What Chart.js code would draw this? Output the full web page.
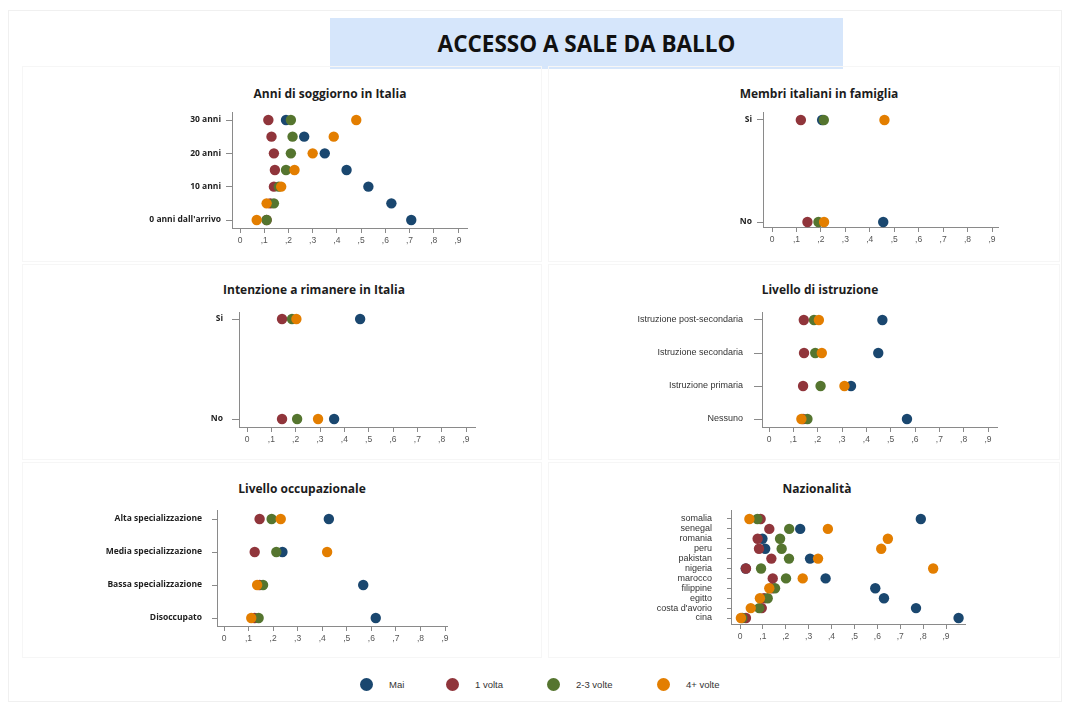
<!DOCTYPE html>
<html>
<head>
<meta charset="utf-8">
<script src="https://cdn.jsdelivr.net/npm/chart.js@4/dist/chart.umd.min.js"></script>
<style>
  body { margin: 0; background: #fff; width: 1068px; height: 704px; position: relative; overflow: hidden; font-family: 'Open Sans', sans-serif; }
  #frame { position: absolute; left: 8px; top: 10px; width: 1052px; height: 690px; border: 1px solid #f0f0f0; }
  .box { position: absolute; border: 1px solid #f6f6f6; }
  #title { position: absolute; left: 330px; top: 18px; width: 513px; height: 51px; background: #d6e6fb; color: #111;
           font: bold 22.5px 'Open Sans', sans-serif; text-align: center; line-height: 51px; }
  .ptitle { position: absolute; transform: translate(-50%, -50%); font: bold 12px 'Open Sans', sans-serif; color: #1c1c1c; white-space: nowrap; }
  canvas { position: absolute; }
  .leg { position: absolute; top: 678px; font: 9.5px 'Liberation Sans', Arial, sans-serif; color: #333; line-height: 14px; }
  .dot { position: absolute; width: 13px; height: 13px; border-radius: 50%; }
</style>
</head>
<body>
<div id="frame"></div>
<div id="title">ACCESSO A SALE DA BALLO</div>
<script>
console.log('dot plots')

const seriesNames = ['Mai', '1 volta', '2-3 volte', '4+ volte']
const seriesColors = ['#1a476f', '#90353b', '#55752f', '#e37e00']

// rows listed top to bottom, as in the picture
const anniCats = ['30 anni', '25 anni', '20 anni', '15 anni', '10 anni', '5 anni', "0 anni dall'arrivo"]
const anniMai    = [0.19, 0.265, 0.35, 0.44, 0.53, 0.625, 0.707]
const anniVolta1 = [0.117, 0.13, 0.14, 0.144, 0.14, 0.125, 0.11]
const anniVolte23 = [0.21, 0.217, 0.21, 0.19, 0.16, 0.14, 0.11]
const anniVolte4 = [0.48, 0.387, 0.30, 0.225, 0.17, 0.11, 0.069]

const membriCats = ['Si', 'No']
const membriMai    = [0.205, 0.455]
const membriVolta1 = [0.118, 0.145]
const membriVolte23 = [0.212, 0.19]
const membriVolte4 = [0.46, 0.213]

const intenzCats = ['Si', 'No']
const intenzMai    = [0.465, 0.358]
const intenzVolta1 = [0.144, 0.144]
const intenzVolte23 = [0.185, 0.206]
const intenzVolte4 = [0.203, 0.292]

const istrCats = ['Istruzione post-secondaria', 'Istruzione secondaria', 'Istruzione primaria', 'Nessuno']
const istrMai    = [0.466, 0.449, 0.337, 0.567]
const istrVolta1 = [0.143, 0.144, 0.14, 0.14]
const istrVolte23 = [0.185, 0.19, 0.212, 0.158]
const istrVolte4 = [0.205, 0.217, 0.31, 0.133]

const occCats = ['Alta specializzazione', 'Media specializzazione', 'Bassa specializzazione', 'Disoccupato']
const occMai    = [0.427, 0.238, 0.567, 0.618]
const occVolta1 = [0.145, 0.125, 0.145, 0.125]
const occVolte23 = [0.194, 0.213, 0.159, 0.141]
const occVolte4 = [0.231, 0.42, 0.135, 0.111]

const nazCats = ['somalia', 'senegal', 'romania', 'peru', 'pakistan', 'nigeria', 'marocco', 'filippine', 'egitto', "costa d'avorio", 'cina']
const nazMai    = [0.79, 0.263, 0.098, 0.11, 0.306, 0.025, 0.374, 0.591, 0.629, 0.769, 0.955]
const nazVolta1 = [0.09, 0.128, 0.077, 0.083, 0.137, 0.026, 0.143, 0.14, 0.105, 0.095, 0.026]
const nazVolte23 = [0.076, 0.215, 0.175, 0.182, 0.214, 0.092, 0.201, 0.153, 0.121, 0.084, 0.01]
const nazVolte4 = [0.041, 0.384, 0.646, 0.617, 0.341, 0.844, 0.274, 0.128, 0.087, 0.047, 0.004]

const xTicks = [0, 0.1, 0.2, 0.3, 0.4, 0.5, 0.6, 0.7, 0.8, 0.9]
const xTickLabel = v => v === 0 ? '0' : ',' + Math.round(v * 10)

const boldFont = { family: "'Open Sans', sans-serif", size: 8.5, weight: 'bold' }
const plainFont = { family: "'Liberation Sans', Arial, sans-serif", size: 9 }

// axis box in page pixels, where 0 and ,9 sit, first and last row
const panels = [
  { title: 'Anni di soggiorno in Italia', tx: 330, ty: 93, cats: anniCats,
    series: [anniMai, anniVolta1, anniVolte23, anniVolte4],
    ax0: 232, ax1: 467, ay0: 112, ay1: 228, zeroX: 240, nineX: 458, rowTop: 120, rowBot: 220, step: 2,
    font: boldFont, color: '#1e1e1e', tick: 6, pad: 5 },
  { title: 'Membri italiani in famiglia', tx: 819, ty: 93, cats: membriCats,
    series: [membriMai, membriVolta1, membriVolte23, membriVolte4],
    ax0: 763, ax1: 998, ay0: 112, ay1: 227, zeroX: 772, nineX: 992, rowTop: 120, rowBot: 222, step: 1,
    font: boldFont, color: '#1e1e1e', tick: 6, pad: 5 },
  { title: 'Intenzione a rimanere in Italia', tx: 314, ty: 289, cats: intenzCats,
    series: [intenzMai, intenzVolta1, intenzVolte23, intenzVolte4],
    ax0: 239, ax1: 475, ay0: 312, ay1: 427, zeroX: 247, nineX: 466, rowTop: 319, rowBot: 419, step: 1,
    font: boldFont, color: '#1e1e1e', tick: 7, pad: 9 },
  { title: 'Livello di istruzione', tx: 820, ty: 289, cats: istrCats,
    series: [istrMai, istrVolta1, istrVolte23, istrVolte4],
    ax0: 762, ax1: 997, ay0: 312, ay1: 427, zeroX: 769, nineX: 988, rowTop: 320, rowBot: 419, step: 1,
    font: plainFont, color: '#333', tick: 8, pad: 11 },
  { title: 'Livello occupazionale', tx: 302, ty: 488, cats: occCats,
    series: [occMai, occVolta1, occVolte23, occVolte4],
    ax0: 217, ax1: 447, ay0: 510, ay1: 626, zeroX: 224, nineX: 445, rowTop: 519, rowBot: 618, step: 1,
    font: boldFont, color: '#1e1e1e', tick: 5, pad: 10 },
  { title: 'Nazionalità', tx: 817, ty: 488, cats: nazCats,
    series: [nazMai, nazVolta1, nazVolte23, nazVolte4],
    ax0: 731, ax1: 965, ay0: 510, ay1: 624, zeroX: 740, nineX: 946, rowTop: 519, rowBot: 618, step: 1,
    font: plainFont, color: '#333', tick: 4, pad: 15 },
]

// faint panel frames
const frames = [[22, 66, 518, 194], [548, 66, 510, 194], [22, 264, 518, 194], [548, 264, 510, 194], [22, 462, 518, 194], [548, 462, 510, 194]]
frames.forEach(f => {
  const d = document.createElement('div')
  d.className = 'box'
  Object.assign(d.style, { left: f[0] + 'px', top: f[1] + 'px', width: f[2] + 'px', height: f[3] + 'px' })
  document.body.appendChild(d)
})

const YW = 140   // room for row labels
const XH = 30    // room for x tick labels
const TOP = 30   // room above the axis so label padding never moves the plot

panels.forEach((p, index) => {
  const t = document.createElement('div')
  t.className = 'ptitle'
  t.textContent = p.title
  t.style.left = p.tx + 'px'
  t.style.top = p.ty + 'px'
  document.body.appendChild(t)

  const n = p.cats.length
  const unit = (p.nineX - p.zeroX) / 0.9
  const rowUnit = (p.rowBot - p.rowTop) / (n - 1)

  const cv = document.createElement('canvas')
  const w = YW + (p.ax1 - p.ax0) + 12
  const h = (p.ay1 - p.ay0) + TOP + XH
  cv.width = w
  cv.height = h
  cv.style.left = (p.ax0 - YW) + 'px'
  cv.style.top = (p.ay0 - TOP) + 'px'
  cv.id = `panel-${index}`
  document.body.appendChild(cv)

  const datasets = p.series.map((vals, s) => ({
    label: seriesNames[s],
    data: vals.map((v, i) => ({ x: v, y: n - 1 - i })),
    backgroundColor: seriesColors[s],
    borderColor: seriesColors[s],
    pointRadius: 5.2,
    pointBorderWidth: 0,
    order: 3 - s,   // later series on top
    clip: false
  }))

  new Chart(cv.getContext('2d'), {
    type: 'scatter',
    data: { datasets },
    options: {
      responsive: false,
      animation: false,
      layout: { padding: { top: TOP, right: 12, bottom: 0, left: 0 } },
      plugins: { legend: { display: false }, tooltip: { enabled: false } },
      scales: {
        x: {
          type: 'linear',
          min: (p.ax0 - p.zeroX) / unit,
          max: (p.ax1 - p.zeroX) / unit,
          afterFit: s => { s.height = XH },
          afterBuildTicks: s => { s.ticks = xTicks.map(v => ({ value: v })) },
          ticks: { callback: v => xTickLabel(v), autoSkip: false, maxRotation: 0, padding: 3, color: '#555',
                   font: { family: "'Liberation Sans', Arial, sans-serif", size: 8.5 } },
          grid: { drawOnChartArea: false, tickLength: 5, color: '#8a8a8a' },
          border: { display: true, color: '#8a8a8a' }
        },
        y: {
          type: 'linear',
          min: -(p.ay1 - p.rowBot) / rowUnit,
          max: (n - 1) + (p.rowTop - p.ay0) / rowUnit,
          afterFit: s => { s.width = YW },
          afterBuildTicks: s => {
            const tk = []
            for (let v = 0; v <= n - 1; v += p.step) tk.push({ value: v })
            s.ticks = tk
          },
          ticks: { callback: v => p.cats[n - 1 - v], autoSkip: false, padding: p.pad, color: p.color, font: p.font },
          grid: { drawOnChartArea: false, tickLength: p.tick, color: '#8a8a8a' },
          border: { display: true, color: '#8a8a8a' }
        }
      }
    }
  })
})

// legend
const legendPos = [366, 452, 553, 663]
seriesNames.forEach((name, s) => {
  const d = document.createElement('div')
  d.className = 'dot'
  d.style.background = seriesColors[s]
  d.style.left = (legendPos[s] - 6.5) + 'px'
  d.style.top = (684 - 6.5) + 'px'
  document.body.appendChild(d)
  const l = document.createElement('div')
  l.className = 'leg'
  l.textContent = name
  l.style.left = (legendPos[s] + 23) + 'px'
  document.body.appendChild(l)
})
</script>
</body>
</html>
